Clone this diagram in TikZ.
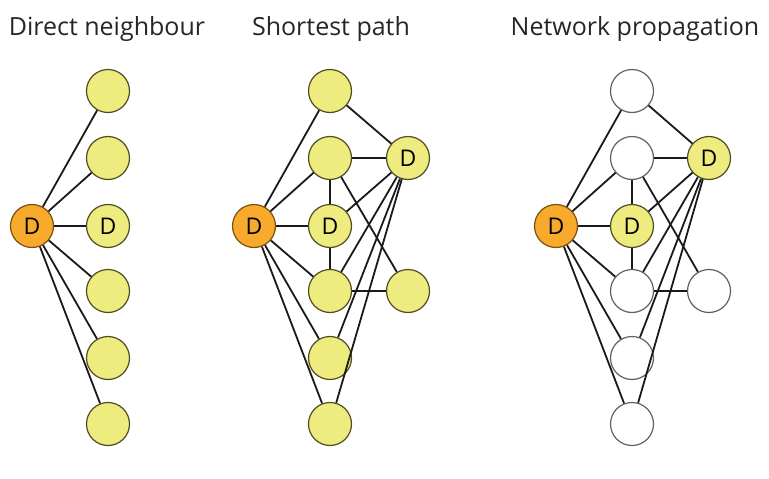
\documentclass[tikz,border=0pt]{standalone}
\usepackage{fontspec}
\setmainfont{Open Sans}
\definecolor{dorange}{HTML}{F7AA2C}
\definecolor{dorangeline}{HTML}{7A500E}
\definecolor{nyellow}{HTML}{EEEC7E}
\definecolor{nyellowline}{HTML}{4E4C22}
\definecolor{nwhiteline}{HTML}{606060}
\definecolor{edgecol}{HTML}{1A1A1A}
\tikzset{
  basenode/.style={circle, inner sep=0pt, minimum size=43pt, line width=1.2pt, font=\fontsize{23}{23}\selectfont},
  seed/.style={basenode, fill=dorange, draw=dorangeline},
  ynode/.style={basenode, fill=nyellow, draw=nyellowline},
  wnode/.style={basenode, fill=white, draw=nwhiteline},
  edge/.style={draw=edgecol, line width=1.8pt},
  title/.style={font=\fontsize{25}{25}\selectfont, text=black!85, anchor=base}
}
\begin{document}
\begin{tikzpicture}[x=1pt,y=-1pt]
\useasboundingbox (0,0) rectangle (769,479);
% titles
\node[title] (t1) at (107,35) {Direct neighbour};
\node[title] (t2) at (331,35) {Shortest path};
\node[title] (t3) at (635,35) {Network propagation};

% ---- panel 1
\node[seed] (a0) at (32,226) {D};
\node[ynode] (a1) at (108,91) {};
\node[ynode] (a2) at (108,158) {};
\node[ynode] (a3) at (108,226) {D};
\node[ynode] (a4) at (108,291) {};
\node[ynode] (a5) at (108,358) {};
\node[ynode] (a6) at (108,424) {};
\foreach \i in {1,...,6} \draw[edge] (a0) -- (a\i);

% ---- panel 2
\node[seed] (b0) at (254,226) {D};
\node[ynode] (b1) at (330,91) {};
\node[ynode] (b2) at (330,158) {};
\node[ynode] (b3) at (330,226) {D};
\node[ynode] (b4) at (330,291) {};
\node[ynode] (b5) at (330,358) {};
\node[ynode] (b6) at (330,424) {};
\node[ynode] (br1) at (408,158) {D};
\node[ynode] (br2) at (408,291) {};
\foreach \i in {1,...,6} \draw[edge] (b0) -- (b\i);
\foreach \i in {1,...,6} \draw[edge] (br1) -- (b\i);
\draw[edge] (b2) -- (b3);
\draw[edge] (b3) -- (b4);
\draw[edge] (b2) -- (br2);
\draw[edge] (b4) -- (br2);

% ---- panel 3
\node[seed] (c0) at (556,226) {D};
\node[wnode] (c1) at (632,91) {};
\node[wnode] (c2) at (632,158) {};
\node[ynode] (c3) at (632,226) {D};
\node[wnode] (c4) at (632,291) {};
\node[wnode] (c5) at (632,358) {};
\node[wnode] (c6) at (632,424) {};
\node[ynode] (cr1) at (709,158) {D};
\node[wnode] (cr2) at (709,291) {};
\foreach \i in {1,...,6} \draw[edge] (c0) -- (c\i);
\foreach \i in {1,...,6} \draw[edge] (cr1) -- (c\i);
\draw[edge] (c2) -- (c3);
\draw[edge] (c3) -- (c4);
\draw[edge] (c2) -- (cr2);
\draw[edge] (c4) -- (cr2);
\end{tikzpicture}
\end{document}
